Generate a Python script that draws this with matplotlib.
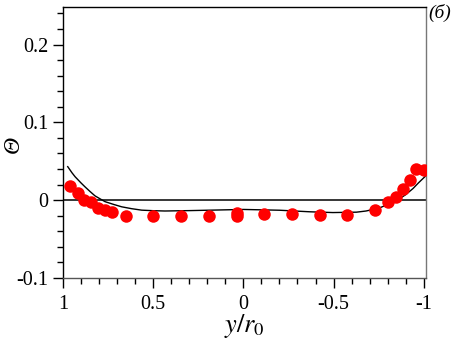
import matplotlib
matplotlib.use('Agg')
import matplotlib.pyplot as plt
from matplotlib.ticker import MultipleLocator

plt.rcParams['font.family'] = ['Liberation Serif', 'DejaVu Serif']
plt.rcParams['mathtext.fontset'] = 'stix'

# measured points (red circles)
pts_x = [0.961, 0.919, 0.882, 0.845, 0.808, 0.767, 0.727, 0.653, 0.500, 0.346,
         0.189, 0.038, 0.038, -0.115, -0.269, -0.424, -0.577, -0.730, -0.804,
         -0.847, -0.886, -0.924, -0.957, -1.000]
pts_y = [0.0184, 0.0094, 0.0, -0.003, -0.0099, -0.0129, -0.0159, -0.0206, -0.0206, -0.0206,
         -0.020, -0.016, -0.020, -0.0176, -0.0176, -0.0189, -0.0189, -0.0129, -0.003,
         0.0043, 0.0138, 0.0257, 0.040, 0.0386]

# calculated curve
curve_x = [0.974, 0.95, 0.933, 0.9, 0.878, 0.85, 0.823, 0.79, 0.767, 0.72, 0.675, 0.62,
           0.564, 0.5, 0.435, 0.3, 0.2, 0.1, 0.0, -0.1, -0.2, -0.368, -0.496, -0.627,
           -0.68, -0.719, -0.76, -0.793, -0.83, -0.867, -0.9, -0.941, -0.97, -1.006, -1.03]
curve_y = [0.043, 0.035, 0.030, 0.022, 0.017, 0.011, 0.0055, 0.001, -0.002, -0.0055,
           -0.0086, -0.011, -0.0129, -0.0136, -0.014, -0.0135, -0.013, -0.0125, -0.012,
           -0.0125, -0.013, -0.015, -0.016, -0.0155, -0.014, -0.012, -0.0095, -0.0064,
           -0.0025, 0.002, 0.007, 0.015, 0.022, 0.030, 0.036]

fig = plt.figure(figsize=(4.67, 3.41), dpi=100)
ax = fig.add_axes([0.135, 0.185, 0.777, 0.794])

ax.axhline(0, color='black', lw=1.1, zorder=1)
ax.plot(curve_x, curve_y, color='black', lw=1.0, zorder=2)
ax.plot(pts_x, pts_y, 'o', color='#ff0000', ms=9, mec='none', zorder=3)

ax.set_xlim(1.0, -1.012)
ax.set_ylim(-0.1, 0.248)

ax.xaxis.set_minor_locator(MultipleLocator(0.1))
ax.yaxis.set_minor_locator(MultipleLocator(0.02))
ax.set_xticks([1, 0.5, 0, -0.5, -1])
ax.set_xticklabels(['1', '0.5', '0', '-0.5', '-1'])
ax.set_yticks([-0.1, 0, 0.1, 0.2])
ax.set_yticklabels(['-0.1', '0', '0.1', '0.2'])

ax.tick_params(which='both', direction='out', top=False, right=False, labelsize=14.5)
ax.tick_params(which='major', length=7, width=1.0)
ax.tick_params(which='minor', length=4, width=1.0)
ax.tick_params(axis='x', pad=5)

ax.spines['right'].set_color('#777777')
ax.spines['bottom'].set_color('#555555')
for s in ax.spines.values():
    s.set_linewidth(1.0)

ax.set_xlabel(r'$y/r_{\rm 0}$', fontsize=19, labelpad=-1)
fig.text(0.028, 0.575, 'Θ', fontsize=17, style='italic', rotation=90,
         ha='center', va='center')
fig.text(0.942, 0.962, '(б)', fontsize=14, style='italic', ha='center', va='center')

fig.savefig('out.png', dpi=100)
